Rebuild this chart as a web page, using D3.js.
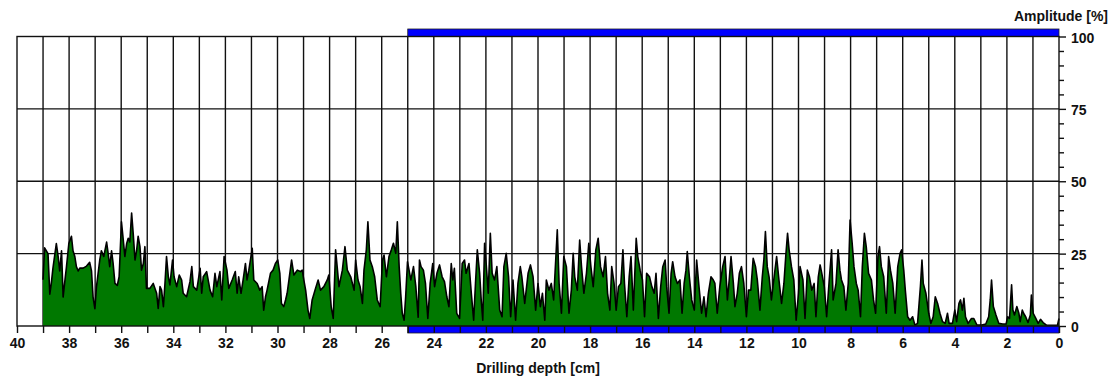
<!DOCTYPE html>
<html>
<head>
<meta charset="utf-8">
<script src="https://cdn.jsdelivr.net/npm/d3@7"></script>
<style>
  body { margin: 0; background: #fff; }
  svg text { font-family: "Liberation Sans", Arial, sans-serif; font-weight: bold; }
</style>
</head>
<body>
<div id="chart"></div>
<script>
// Amplitude profile along the drilling depth as [depth cm, amplitude %]
const traceDeep = [
  [39.00,16],[38.94,27],[38.81,25],[38.74,11],[38.68,15],[38.62,20],[38.49,28.5],[38.42,24],[38.36,19],[38.29,26],
  [38.23,10],[38.17,15],[38.10,20.5],[38.01,28.5],[37.91,31],[37.85,26],[37.78,24],[37.72,20.5],[37.65,19],[37.59,20],
  [37.46,20],[37.33,20.7],[37.21,22],[37.14,19],[37.08,10],[37.01,6],[36.95,13.5],[36.82,23],[36.76,26],[36.67,24],
  [36.56,29],[36.50,25],[36.44,20.5],[36.37,26],[36.31,21.6],[36.24,14.7],[36.15,14],[36.08,17],[35.99,36],[35.92,29.7],
  [35.86,24],[35.79,28.5],[35.73,30.3],[35.67,29],[35.60,39],[35.54,32],[35.47,22.8],[35.41,26],[35.35,31],[35.28,27.4],
  [35.22,19.3],[35.15,21.6],[35.09,27.4],[35.03,13],[34.90,13],[34.77,14.7],[34.64,11.3],[34.58,6.1],[34.51,13.6],[34.45,12.4],
  [34.38,6.7],[34.32,14.7],[34.26,24],[34.19,17],[34.13,14.2],[34.03,22.8],[33.97,17],[33.87,13.6],[33.77,17.6],[33.68,15.9],
  [33.62,11.3],[33.49,10.1],[33.36,15.3],[33.29,20.5],[33.23,13.6],[33.10,12.4],[32.97,19.9],[32.91,11.3],[32.85,17],[32.72,18.8],
  [32.59,12.4],[32.49,10.1],[32.40,18.2],[32.33,13.6],[32.21,18.8],[32.14,9],[32.05,24]
];
const traceUpper = [
  [31.94,19.3],[31.87,13],[31.74,15.9],[31.62,18.8],[31.55,11.3],[31.49,17],[31.40,11.3],[31.32,15.9],[31.23,21.6],[31.17,15.9],
  [31.10,19.3],[30.97,26.8],[30.91,15.9],[30.78,14.7],[30.68,12.4],[30.59,13.6],[30.53,5.5],[30.46,10.1],[30.40,12.4],[30.27,18.2],
  [30.17,19.3],[30.08,21.6],[29.99,22.8],[29.91,18.2],[29.85,7.8],[29.76,6.7],[29.69,9],[29.63,11.3],[29.56,15.9],[29.46,22.8],
  [29.37,17.6],[29.24,19.3],[29.12,18.8],[29.05,19.3],[28.99,15.9],[28.92,12.4],[28.83,5.5],[28.76,2.6],[28.67,9],[28.54,13],
  [28.44,15.9],[28.35,12.4],[28.22,13.6],[28.09,15.9],[28.03,17.6],[27.94,6.7],[27.86,2.6],[27.77,26.3],[27.71,20.5],[27.64,13.6],
  [27.51,19.3],[27.41,27.4],[27.32,19.3],[27.19,17],[27.06,12.4],[27.00,22.8],[26.91,15.9],[26.83,13.6],[26.74,7.8],[26.68,19.3],
  [26.59,26.3],[26.53,36],[26.45,22.8],[26.36,20.5],[26.27,17],[26.17,9],[26.06,6.7],[25.97,22.8],[25.91,24.5],[25.82,17],
  [25.72,24],[25.63,26.3],[25.55,28.6],[25.46,25.1],[25.40,36],[25.33,20.5],[25.27,11.3],[25.21,4.4],[25.14,2],[25.08,10.1],
  [25.01,22.2],[24.95,19.3],[24.88,15.9],[24.78,20.5],[24.69,13.6],[24.60,3]
];
const traceMiddle = [
  [24.55,22.8],[24.49,20.5],[24.40,19.3],[24.32,14.7],[24.23,2.6],[24.14,14.7],[24.04,21.6],[23.97,13.6],[23.88,18.2],[23.78,21.1],
  [23.68,17],[23.59,15.3],[23.50,10.1],[23.42,6.7],[23.33,21.6],[23.27,15.9],[23.21,19.9],[23.12,4.4],[23.01,2.6],[22.91,21.6],
  [22.82,22.8],[22.76,18.2],[22.65,21.6],[22.56,11.3],[22.47,2],[22.40,14.7],[22.33,26.3],[22.24,18.2],[22.18,9],[22.12,2],
  [22.05,28.6],[21.99,21.6],[21.91,11.3],[21.83,32],[21.76,18.2],[21.67,15.9],[21.58,20.5],[21.47,5.5],[21.38,3.2],[21.31,20.5],
  [21.22,25.1],[21.13,17],[21.05,3.2],[20.96,15.9],[20.86,2],[20.77,14.7],[20.68,20.5],[20.62,17],[20.51,7.8],[20.38,18.2],
  [20.29,21.1],[20.19,17],[20.09,5.5],[20.00,14.7],[19.91,6.7],[19.83,11.3],[19.74,2],[19.68,15.9],[19.58,12.4],[19.49,14.7],
  [19.40,9],[19.32,22.8],[19.26,33.2],[19.19,14.7],[19.10,4.4],[19.01,24],[18.91,20.5],[18.81,4.4],[18.72,12.4],[18.65,25.1],
  [18.59,17],[18.49,12.4],[18.40,29.7],[18.33,20.5],[18.24,11.3],[18.14,18.2],[18.05,28.6],[17.97,20.5],[17.88,13.6],[17.78,26.3],
  [17.69,30.3],[17.60,20.5],[17.50,17],[17.41,24],[17.33,11.3],[17.24,5.5]
];
const traceLower = [
  [17.17,20.5],[17.08,14.7],[17.00,5.5],[16.91,13.6],[16.82,14.7],[16.74,26.3],[16.68,14.7],[16.59,3.2],[16.50,17],[16.43,24],
  [16.34,5.5],[16.23,30.3],[16.17,24],[16.08,19.3],[15.99,15.9],[15.91,3.2],[15.83,18.2],[15.72,17],[15.63,13.6],[15.54,11.3],
  [15.47,18.2],[15.38,2.6],[15.29,13.6],[15.21,20.5],[15.12,22.8],[15.06,13.6],[14.97,4.4],[14.89,18.2],[14.83,22.2],[14.74,17],
  [14.65,14.7],[14.55,15.9],[14.47,4.4],[14.39,14.7],[14.32,19.3],[14.27,25.7],[14.19,17],[14.10,9],[14.00,5.5],[13.91,22.8],
  [13.82,13.6],[13.72,4.4],[13.63,10.1],[13.55,3.2],[13.46,11.3],[13.36,17],[13.27,15.9],[13.21,14.7],[13.12,4.4],[13.02,13.6],
  [12.91,20.5],[12.82,24],[12.73,9],[12.66,15.9],[12.59,24],[12.50,14.7],[12.44,6.7],[12.35,11.3],[12.27,18.2],[12.19,20.5],
  [12.10,14.7],[12.00,3.2],[11.92,12.4],[11.83,12.4],[11.74,23.4],[11.65,20.5],[11.58,15.9],[11.48,5.5],[11.39,17],[11.33,22.8],
  [11.27,32.6],[11.20,20.5],[11.13,17],[11.04,9],[10.95,15.9],[10.84,24],[10.75,15.9],[10.65,7.8],[10.56,14.7],[10.49,24],
  [10.42,32],[10.36,26.3],[10.27,20.5],[10.18,15.9]
];
const traceShallow = [
  [10.09,2],[10.00,11.3],[9.94,20.5],[9.83,15.9],[9.75,2.6],[9.66,19.3],[9.58,17],[9.49,12.4],[9.40,14.7],[9.33,3.2],
  [9.24,17],[9.17,21.1],[9.08,17],[9.01,13.6],[8.92,3.2],[8.82,15.9],[8.73,26.3],[8.67,9],[8.56,14.7],[8.48,26.3],
  [8.41,19.3],[8.35,15.9],[8.26,13.6],[8.18,5.5],[8.09,14.7],[8.02,36.6],[7.94,28.6],[7.87,20.5],[7.78,14.7],[7.71,12.4],
  [7.62,3.2],[7.55,20.5],[7.47,32],[7.40,27.4],[7.31,18.2],[7.20,15.9],[7.12,9],[7.04,4.4],[6.95,24],[6.89,27.4],
  [6.82,20.5],[6.73,17],[6.63,4.4],[6.54,24],[6.47,19.3],[6.38,14.7],[6.29,4.4],[6.19,20.5],[6.10,25.1],[6.04,26.3],
  [5.96,19.3],[5.90,12.4],[5.81,3.2],[5.72,2],[5.62,3.2],[5.53,0.3],[5.43,0.9],[5.32,13.6],[5.26,22.8],[5.21,14.7],
  [5.11,11.3],[5.00,4.4],[4.92,0.9],[4.83,3.2],[4.75,10.1],[4.66,7.8],[4.57,4.4],[4.47,1.5],[4.37,0.9],[4.28,4.4],
  [4.22,0.9],[4.09,0.9],[4.00,5.5],[3.93,1.5],[3.84,7.8],[3.78,9],[3.71,5.5],[3.65,9.6],[3.59,3.2],[3.49,0.9],
  [3.36,2.6],[3.27,2.6],[3.15,0.3],[2.96,0.3]
];
const traceTop = [
  [2.81,0.7],[2.70,3.2],[2.64,9],[2.59,15.9],[2.52,6.7],[2.42,3.8],[2.31,0.9],[2.16,0.7],[2.03,0.7],[1.97,3.2],
  [1.90,2.6],[1.82,14.2],[1.77,5.5],[1.71,3.8],[1.62,6.7],[1.54,4.4],[1.49,1.5],[1.41,5.5],[1.36,4.4],[1.28,3.2],
  [1.19,1.2],[1.10,3.8],[1.06,10.7],[0.99,4.4],[0.89,2.6],[0.80,0.9],[0.71,2.3],[0.61,1.2],[0.48,0.3],[0.28,0.2],
  [0.06,0.2],[0.00,2.6]
];

const depthDomain = [40, 0];
const ampDomain = [0, 100];
const xTicks = d3.range(0, 41, 1);
const yTicks = [0, 25, 50, 75, 100];
const yMinorTicks = d3.range(5, 100, 5).filter(v => v % 25 !== 0);
const markedRange = [25, 0];

const CFG = {
  width: 1113,
  height: 379,
  left: 17,
  right: 1059,
  top: 36.5,
  bottom: 326,
};

const profile = [].concat(traceDeep, traceUpper, traceMiddle, traceLower, traceShallow, traceTop);

const svg = d3.select('#chart')
  .append('svg')
  .attr('width', CFG.width)
  .attr('height', CFG.height);

const x = d3.scaleLinear().domain(depthDomain).range([CFG.left, CFG.right]);
const y = d3.scaleLinear().domain(ampDomain).range([CFG.bottom, CFG.top]);

// grid (sits under the trace)
const grid = svg.append('g').attr('stroke', '#111').attr('stroke-width', 1.4);
grid.selectAll('line.v')
  .data(xTicks.filter(d => d > 0 && d < 40))
  .join('line')
  .attr('x1', d => x(d)).attr('x2', d => x(d))
  .attr('y1', CFG.top).attr('y2', CFG.bottom);
grid.selectAll('line.h')
  .data(yTicks.filter(d => d > 0 && d < 100))
  .join('line')
  .attr('x1', CFG.left).attr('x2', CFG.right)
  .attr('y1', d => y(d)).attr('y2', d => y(d));

// amplitude trace
const area = d3.area()
  .x(d => x(d[0]))
  .y0(y(0))
  .y1(d => y(d[1]));
const line = d3.line()
  .x(d => x(d[0]))
  .y(d => y(d[1]));

svg.append('path')
  .datum(profile)
  .attr('fill', '#007800')
  .attr('d', area);
svg.append('path')
  .datum(profile)
  .attr('fill', 'none')
  .attr('stroke', '#000')
  .attr('stroke-width', 1.6)
  .attr('stroke-linejoin', 'round')
  .attr('d', line);

// blue marker bars for the 25 - 0 cm section
svg.append('rect')
  .attr('x', x(markedRange[0])).attr('y', CFG.top - 7.5)
  .attr('width', x(markedRange[1]) - x(markedRange[0])).attr('height', 7.5)
  .attr('fill', '#0000ff').attr('stroke', '#222').attr('stroke-width', 0.8);
svg.append('rect')
  .attr('x', x(markedRange[0])).attr('y', CFG.bottom)
  .attr('width', x(markedRange[1]) - x(markedRange[0])).attr('height', 7)
  .attr('fill', '#0000ff').attr('stroke', '#222').attr('stroke-width', 0.8);

// frame
svg.append('rect')
  .attr('x', CFG.left).attr('y', CFG.top)
  .attr('width', CFG.right - CFG.left).attr('height', CFG.bottom - CFG.top)
  .attr('fill', 'none').attr('stroke', '#111').attr('stroke-width', 1.4);

// x axis
const xAxis = svg.append('g')
  .attr('transform', `translate(0,${CFG.bottom})`)
  .call(d3.axisBottom(x)
    .tickValues(xTicks)
    .tickSize(7)
    .tickPadding(5)
    .tickFormat(d => (d % 2 === 0 ? d : '')));
xAxis.select('.domain').remove();
xAxis.selectAll('line').attr('stroke', '#111').attr('stroke-width', 1.4);
xAxis.selectAll('text').attr('font-size', 14).attr('fill', '#111');

// y axis on the right
const yAxis = svg.append('g')
  .attr('transform', `translate(${CFG.right},0)`)
  .call(d3.axisRight(y).tickValues(yTicks).tickSize(7).tickPadding(5));
yAxis.select('.domain').remove();
yAxis.selectAll('line').attr('stroke', '#111').attr('stroke-width', 1.4);
yAxis.selectAll('text').attr('font-size', 14).attr('fill', '#111').attr('dy', '0.4em');

const yMinor = svg.append('g')
  .attr('transform', `translate(${CFG.right},0)`)
  .call(d3.axisRight(y).tickValues(yMinorTicks).tickSize(5).tickFormat(''));
yMinor.select('.domain').remove();
yMinor.selectAll('line').attr('stroke', '#111').attr('stroke-width', 1.4);

// titles
svg.append('text')
  .attr('x', 1108).attr('y', 21)
  .attr('text-anchor', 'end')
  .attr('font-size', 14)
  .attr('fill', '#111')
  .text('Amplitude [%]');

svg.append('text')
  .attr('x', 538).attr('y', 373)
  .attr('text-anchor', 'middle')
  .attr('font-size', 14)
  .attr('fill', '#111')
  .text('Drilling depth [cm]');
</script>
</body>
</html>
